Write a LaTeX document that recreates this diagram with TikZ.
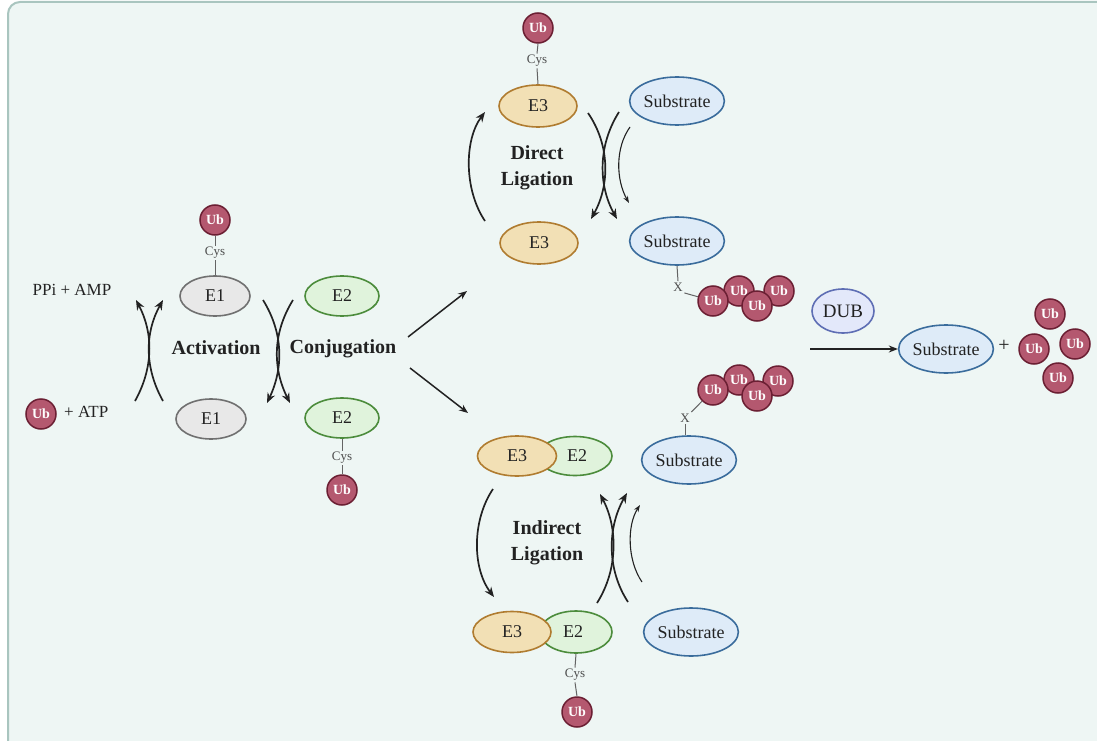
\documentclass[tikz,border=0pt]{standalone}
\usepackage{fontspec}
\setmainfont{Liberation Serif}
\usetikzlibrary{shapes.geometric,arrows.meta}
\definecolor{bg}{HTML}{EEF6F4}
\definecolor{frame}{HTML}{A9C5BF}
\definecolor{ubfill}{HTML}{B4586F}
\definecolor{ubdraw}{HTML}{6B1F33}
\definecolor{eonefill}{HTML}{E8E8E8}
\definecolor{eonedraw}{HTML}{707070}
\definecolor{etwofill}{HTML}{E0F3DC}
\definecolor{etwodraw}{HTML}{4C8C3C}
\definecolor{ethreefill}{HTML}{F2E0B5}
\definecolor{ethreedraw}{HTML}{B07C30}
\definecolor{subfill}{HTML}{DEEBF8}
\definecolor{subdraw}{HTML}{3A6C9C}
\definecolor{dubfill}{HTML}{E3E8FA}
\definecolor{dubdraw}{HTML}{5E6EB4}
\definecolor{ink}{HTML}{222222}
\begin{document}
\begin{tikzpicture}[x=1pt,y=-1pt,
  txt/.style={text=ink,font=\fontsize{17}{19}\selectfont,inner sep=0},
  bold/.style={text=ink,font=\bfseries\fontsize{20}{26}\selectfont,align=center,inner sep=0},
  ub/.style={circle,fill=ubfill,draw=ubdraw,line width=1.5pt,minimum size=30pt,inner sep=0,text=white,font=\bfseries\fontsize{14}{14}\selectfont},
  ell/.style={ellipse,inner sep=0,line width=1.6pt,text=ink,font=\fontsize{18}{20}\selectfont},
  eone/.style={ell,fill=eonefill,draw=eonedraw,minimum width=70pt,minimum height=40pt},
  etwo/.style={ell,fill=etwofill,draw=etwodraw,minimum width=74pt,minimum height=40pt},
  ethree/.style={ell,fill=ethreefill,draw=ethreedraw,minimum width=78pt,minimum height=42pt},
  sub/.style={ell,fill=subfill,draw=subdraw,minimum width=92pt,minimum height=48pt},
  dub/.style={ell,fill=dubfill,draw=dubdraw,minimum width=62pt,minimum height=44pt,font=\fontsize{19}{20}\selectfont},
  cys/.style={text=ink!80,font=\fontsize{13}{13}\selectfont,inner sep=1.5pt},
  link/.style={draw=ink!70,line width=1pt},
  arr/.style={draw=ink,line width=1.7pt,-{Stealth[length=10pt,width=8pt]}},
  thinarr/.style={draw=ink,line width=1.1pt,-{Stealth[length=7pt,width=5pt]}}
]
\useasboundingbox (0,0) rectangle (1097,741);
\clip (0,0) rectangle (1097,741);
\draw[fill=bg,draw=frame,line width=2pt,rounded corners=12pt] (8,2) rectangle (1130,770);

% ---------- Activation / Conjugation ----------
\node[ub] (ubA) at (215,220) {Ub};
\node[cys] (cysA) at (215,253) {Cys};
\node[eone] (e1t) at (215,296) {E1};
\draw[link] (ubA.south) -- (cysA.north);
\draw[link] (cysA.south) -- (e1t.north);
\node[eone] (e1b) at (211,419) {E1};
\node[etwo] (e2t) at (342,296) {E2};
\node[etwo] (e2b) at (342,418) {E2};
\node[cys] (cysB) at (342,458) {Cys};
\node[ub] (ubB) at (342,490) {Ub};
\draw[link] (e2b.south) -- (cysB.north);
\draw[link] (cysB.south) -- (ubB.north);

\node[txt] (ppi) at (72,290) {PPi + AMP};
\node[ub] (ubC) at (41,414) {Ub};
\node[txt,anchor=west] (atp) at (64,412) {+ ATP};

\node[bold] (act) at (216,348) {Activation};
\node[bold] (conj) at (343,349) {Conjugation};

\coordinate (a1s) at (135,401); \coordinate (a1e) at (136,300);
\coordinate (a2s) at (163,401); \coordinate (a2e) at (163,300);
\draw[arr] (a1s) .. controls (153.5,368) and (153.5,333) .. (a1e);
\draw[arr] (a2s) .. controls (144.5,368) and (144.5,333) .. (a2e);

\coordinate (c1s) at (263,300); \coordinate (c1e) at (267,403);
\coordinate (c2s) at (293,300); \coordinate (c2e) at (290,403);
\draw[arr] (c1s) .. controls (283.5,333) and (283.5,368) .. (c1e);
\draw[arr] (c2s) .. controls (272.5,333) and (272.5,368) .. (c2e);

\coordinate (d1s) at (408,337); \coordinate (d1e) at (467,291);
\coordinate (d2s) at (410,368); \coordinate (d2e) at (468,413);
\draw[draw=ink,line width=1.5pt,-{Stealth[length=9pt,width=7pt]}] (d1s) -- (d1e);
\draw[draw=ink,line width=1.5pt,-{Stealth[length=9pt,width=7pt]}] (d2s) -- (d2e);

% ---------- Direct ligation ----------
\node[ub] (ubD) at (538,28) {Ub};
\node[cys] (cysD) at (537,61) {Cys};
\node[ethree] (e3t) at (538,106) {E3};
\draw[link] (ubD.south) -- (cysD.north);
\draw[link] (cysD.south) -- (e3t.north);
\node[ethree] (e3b) at (539,243) {E3};
\node[sub] (s1) at (677,101) {Substrate};
\node[sub] (s2) at (677,241) {Substrate};
\node[bold] (dl) at (537,168) {Direct\\Ligation};

\coordinate (l1s) at (485,221); \coordinate (l1e) at (485,112);
\draw[arr] (l1s) .. controls (464,190) and (464,140) .. (l1e);
\coordinate (x1s) at (588,113); \coordinate (x1e) at (591,219);
\coordinate (x2s) at (619,112); \coordinate (x2e) at (617,219);
\draw[arr] (x1s) .. controls (610,145) and (610,185) .. (x1e);
\draw[arr] (x2s) .. controls (598,145) and (598,185) .. (x2e);
\coordinate (t1s) at (630,127); \coordinate (t1e) at (629,203);
\draw[thinarr] (t1s) .. controls (615,148) and (616,180) .. (t1e);

\node[cys] (xa) at (678,287) {X};
\draw[link] (s2.south) -- (xa.north);
\node[ub] (ua2) at (739,291) {Ub};
\node[ub] (ua4) at (779,291) {Ub};
\node[ub] (ua1) at (713,301) {Ub};
\node[ub] (ua3) at (757,306) {Ub};
\draw[link] (xa.south east) -- (ua1);

% ---------- Indirect ligation ----------
\node[etwo,minimum width=74pt,minimum height=39pt] (e2c) at (575,456) {\hspace*{4pt}E2};
\node[ethree,minimum width=79pt,minimum height=40pt] (e3c) at (517,456) {E3};
\node[etwo,minimum width=72pt,minimum height=42pt] (e2d) at (576,632) {\hspace*{-6pt}E2};
\node[ethree,minimum width=78pt,minimum height=41pt] (e3d) at (512,632) {E3};
\node[cys] (cysE) at (575,675) {Cys};
\node[ub] (ubE) at (577,712) {Ub};
\draw[link] (e2d.south) -- (cysE.north);
\draw[link] (cysE.south) -- (ubE.north);
\node[sub] (s3) at (689,460) {Substrate};
\node[sub] (s4) at (691,632) {Substrate};
\node[bold] (il) at (547,543) {Indirect\\Ligation};

\coordinate (l2s) at (493,489); \coordinate (l2e) at (494,597);
\draw[arr] (l2s) .. controls (472,520) and (472,568) .. (l2e);
\coordinate (y1s) at (597,603); \coordinate (y1e) at (600,494);
\coordinate (y2s) at (628,602); \coordinate (y2e) at (627,493);
\draw[arr] (y1s) .. controls (618,570) and (618,528) .. (y1e);
\draw[arr] (y2s) .. controls (607,570) and (607,528) .. (y2e);
\coordinate (t2s) at (642,582); \coordinate (t2e) at (640,505);
\draw[thinarr] (t2s) .. controls (627,560) and (627,525) .. (t2e);

\node[cys] (xb) at (685,418) {X};
\draw[link] (s3.north) ++(-4,0) coordinate (s3top) -- (s3top |- xb.south);
\node[ub] (ub2) at (739,380) {Ub};
\node[ub] (ub4) at (778,381) {Ub};
\node[ub] (ub1) at (713,390) {Ub};
\node[ub] (ub3) at (757,396) {Ub};
\draw[link] (xb.north east) -- (ub1);

% ---------- DUB ----------
\node[dub] (dub) at (843,311) {DUB};
\coordinate (dubs) at (810,349);
\node[sub] (s5) at (946,349) {Substrate};
\draw[draw=ink,line width=1.5pt,-{Stealth[length=9pt,width=7pt]}] (dubs) -- (s5.west);
\node[txt,font=\fontsize{20}{20}\selectfont] (plus) at (1004,346) {+};
\node[ub] (uf1) at (1050,314) {Ub};
\node[ub] (uf2) at (1034,349) {Ub};
\node[ub] (uf3) at (1075,344) {Ub};
\node[ub] (uf4) at (1058,378) {Ub};
\end{tikzpicture}
\end{document}
